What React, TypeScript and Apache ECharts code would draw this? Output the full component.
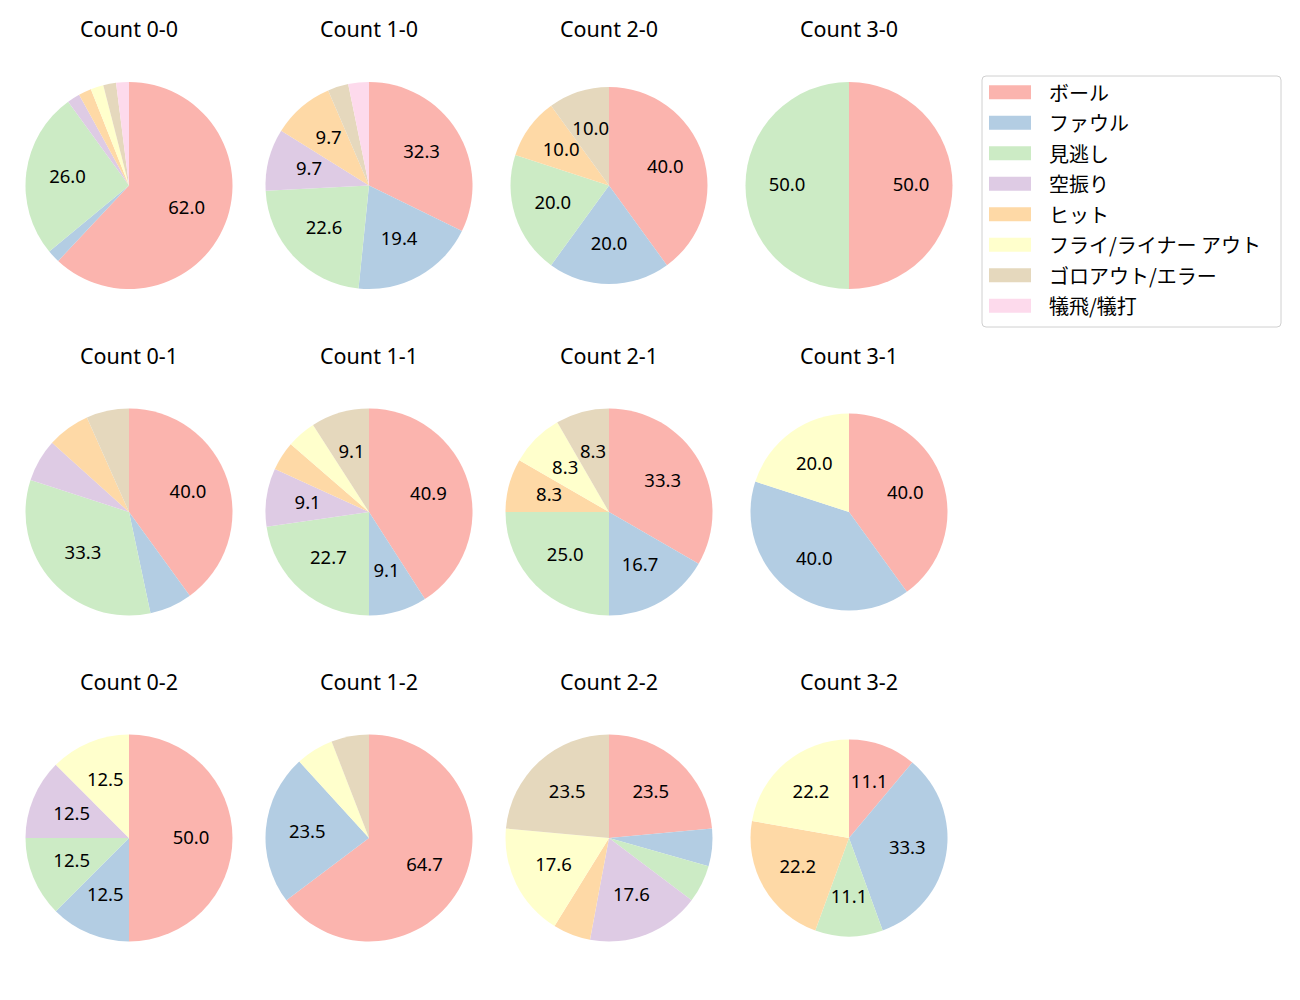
import React, { useEffect, useRef } from "react";
import * as echarts from "echarts";

const categories = [
  "ボール",
  "ファウル",
  "見逃し",
  "空振り",
  "ヒット",
  "フライ/ライナー アウト",
  "ゴロアウト/エラー",
  "犠飛/犠打",
];

const colors = ["#fbb4ae", "#b3cde3", "#ccebc5", "#decbe4", "#fed9a6", "#ffffcc", "#e5d8bd", "#fddaec"];

const pieTitles = [
  "Count 0-0", "Count 1-0", "Count 2-0", "Count 3-0",
  "Count 0-1", "Count 1-1", "Count 2-1", "Count 3-1",
  "Count 0-2", "Count 1-2", "Count 2-2", "Count 3-2",
];

// pitch counts per category, in category order
const count00 = [31, 1, 13, 1, 1, 1, 1, 1];
const count10 = [10, 6, 7, 3, 3, 0, 1, 1];
const count20 = [4, 2, 2, 0, 1, 0, 1, 0];
const count30 = [1, 0, 1, 0, 0, 0, 0, 0];
const count01 = [6, 1, 5, 1, 1, 0, 1, 0];
const count11 = [9, 2, 5, 2, 1, 1, 2, 0];
const count21 = [4, 2, 3, 0, 1, 1, 1, 0];
const count31 = [2, 2, 0, 0, 0, 1, 0, 0];
const count02 = [4, 1, 1, 1, 0, 1, 0, 0];
const count12 = [11, 4, 0, 0, 0, 1, 1, 0];
const count22 = [4, 1, 1, 3, 1, 3, 4, 0];
const count32 = [1, 3, 1, 0, 2, 2, 0, 0];

const allCounts = [
  count00, count10, count20, count30,
  count01, count11, count21, count31,
  count02, count12, count22, count32,
];

const colX = [129, 369, 609, 849];
const rowY = [185.5, 512, 838];
const smallPies = [2, 7, 11];

export default function App() {
  const ref = useRef<HTMLDivElement>(null);
  useEffect(() => {
    if (!ref.current) return;
    const chart = echarts.init(ref.current, undefined, { renderer: "svg" });
    const series: any[] = [];
    const graphics: any[] = [];
    allCounts.forEach((counts, i) => {
      const col = i % 4;
      const row = Math.floor(i / 4);
      const cx = colX[col];
      const cy = rowY[row];
      const r = smallPies.includes(i) ? 98.5 : 103.5;
      const total = counts.reduce((a, b) => a + b, 0);
      const data = categories.map((name, k) => ({
        name,
        value: counts[k],
        itemStyle: { color: colors[k] },
      }));
      series.push({
        type: "pie",
        name: pieTitles[i],
        center: [cx, cy],
        radius: [0, r],
        startAngle: 90,
        clockwise: true,
        silent: true,
        avoidLabelOverlap: false,
        label: { show: false },
        labelLine: { show: false },
        itemStyle: { borderWidth: 0 },
        emphasis: { disabled: true },
        data,
      });
      series.push({
        type: "pie",
        name: pieTitles[i] + " labels",
        center: [cx, cy],
        radius: [r * 0.14, r],
        startAngle: 90,
        clockwise: true,
        silent: true,
        avoidLabelOverlap: false,
        labelLine: { show: false },
        itemStyle: { color: "rgba(0,0,0,0)", borderWidth: 0 },
        emphasis: { disabled: true },
        label: {
          show: true,
          position: "inside",
          color: "#000",
          fontSize: 18.5,
          fontFamily: "Noto Sans",
          offset: [0, -2],
          formatter: (p: any) => {
            const pct = (p.value / total) * 100;
            return pct >= 7 ? pct.toFixed(1) : "";
          },
        },
        data: categories.map((name, k) => ({ name, value: counts[k] })),
      });
      graphics.push({
        type: "text",
        x: cx,
        y: cy - 157,
        style: {
          text: pieTitles[i],
          fontSize: 21.5,
          fontFamily: "Noto Sans",
          fill: "#000",
          textAlign: "center",
          textVerticalAlign: "middle",
        },
      });
    });
    graphics.push({
      type: "rect",
      z: -1,
      shape: { x: 982, y: 76, width: 299, height: 251, r: 4 },
      style: { fill: "#fff", stroke: "#d0d0d0", lineWidth: 1 },
    });
    chart.setOption({
      animation: false,
      backgroundColor: "#fff",
      graphic: graphics,
      legend: {
        orient: "vertical",
        left: 989,
        top: 82.3,
        padding: 0,
        itemWidth: 42,
        itemHeight: 14,
        itemGap: 10.5,
        icon: "rect",
        selectedMode: false,
        textStyle: {
          fontSize: 20,
          lineHeight: 20,
          fontFamily: "Noto Sans CJK JP",
          color: "#000",
          padding: [0, 0, 0, 13],
        },
        data: categories.map((name, k) => ({ name, itemStyle: { color: colors[k] } })),
      },
      series,
    });
    return () => chart.dispose();
  }, []);
  return (
    <div
      ref={ref}
      style={{ position: "absolute", left: 0, top: 0, width: 1300, height: 1000 }}
    />
  );
}
